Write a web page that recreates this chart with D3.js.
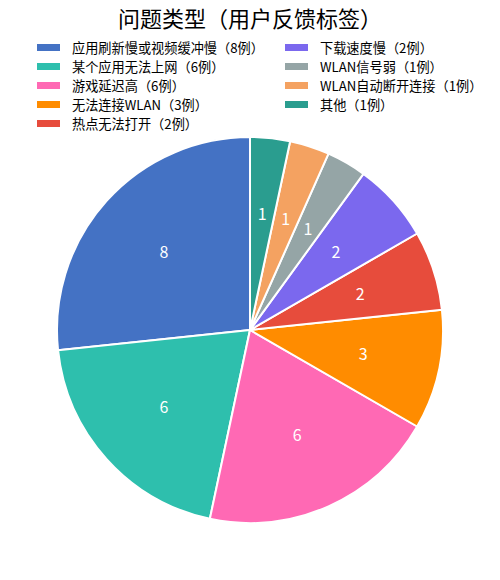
<!DOCTYPE html>
<html>
<head>
<meta charset="utf-8">
<script src="https://cdn.jsdelivr.net/npm/d3@7"></script>
<style>
  body { margin: 0; background: #fff; }
  text { font-family: "Noto Sans CJK SC", "Noto Sans", sans-serif; }
</style>
</head>
<body>
<script>
var categories = ["应用刷新慢或视频缓冲慢", "某个应用无法上网", "游戏延迟高", "无法连接WLAN", "热点无法打开",
                  "下载速度慢", "WLAN信号弱", "WLAN自动断开连接", "其他"];
var counts = [8, 6, 6, 3, 2, 2, 1, 1, 1];
var colors = ["#4472C4", "#2EBFAD", "#FF69B4", "#FF8C00", "#E74C3C",
              "#7B68EE", "#95A5A6", "#F4A261", "#2A9D8F"];

var W = 500, H = 580;
var cx = 250, cy = 330, R = 193;

var svg = d3.select("body").append("svg").attr("width", W).attr("height", H);

svg.append("text")
  .attr("x", W / 2).attr("y", 27)
  .attr("text-anchor", "middle")
  .style("font-size", "22px")
  .text("问题类型（用户反馈标签）");

// legend, two columns filled top-down
var perCol = 5;
var legend = svg.append("g").selectAll("g")
  .data(categories).enter().append("g")
  .attr("transform", function(d, i) {
    var col = Math.floor(i / perCol), row = i % perCol;
    return "translate(" + (col ? 285 : 37) + "," + (48 + row * 19) + ")";
  });
legend.append("rect")
  .attr("x", 0).attr("y", -4).attr("width", 23).attr("height", 7)
  .attr("fill", function(d, i) { return colors[i]; });
legend.append("text")
  .attr("x", 35).attr("y", 0).attr("dy", "0.35em")
  .style("font-size", "13.2px")
  .text(function(d, i) { return d + "（" + counts[i] + "例）"; });

var pie = d3.pie().sort(null).startAngle(0).endAngle(-2 * Math.PI);
var arc = d3.arc().innerRadius(0).outerRadius(R);
var labelArc = d3.arc().innerRadius(R * 0.6).outerRadius(R * 0.6);

var g = svg.append("g").attr("transform", "translate(" + cx + "," + cy + ")");
var slices = g.selectAll("g").data(pie(counts)).enter().append("g");
slices.append("path")
  .attr("d", arc)
  .attr("fill", function(d, i) { return colors[i]; })
  .attr("stroke", "#fff")
  .attr("stroke-width", 2)
  .attr("stroke-linejoin", "round");
slices.append("text")
  .attr("transform", function(d) { return "translate(" + labelArc.centroid(d) + ")"; })
  .attr("text-anchor", "middle")
  .attr("dy", "0.35em")
  .attr("fill", "#fff")
  .style("font-size", "16px")
  .text(function(d) { return d.data; });
</script>
</body>
</html>
